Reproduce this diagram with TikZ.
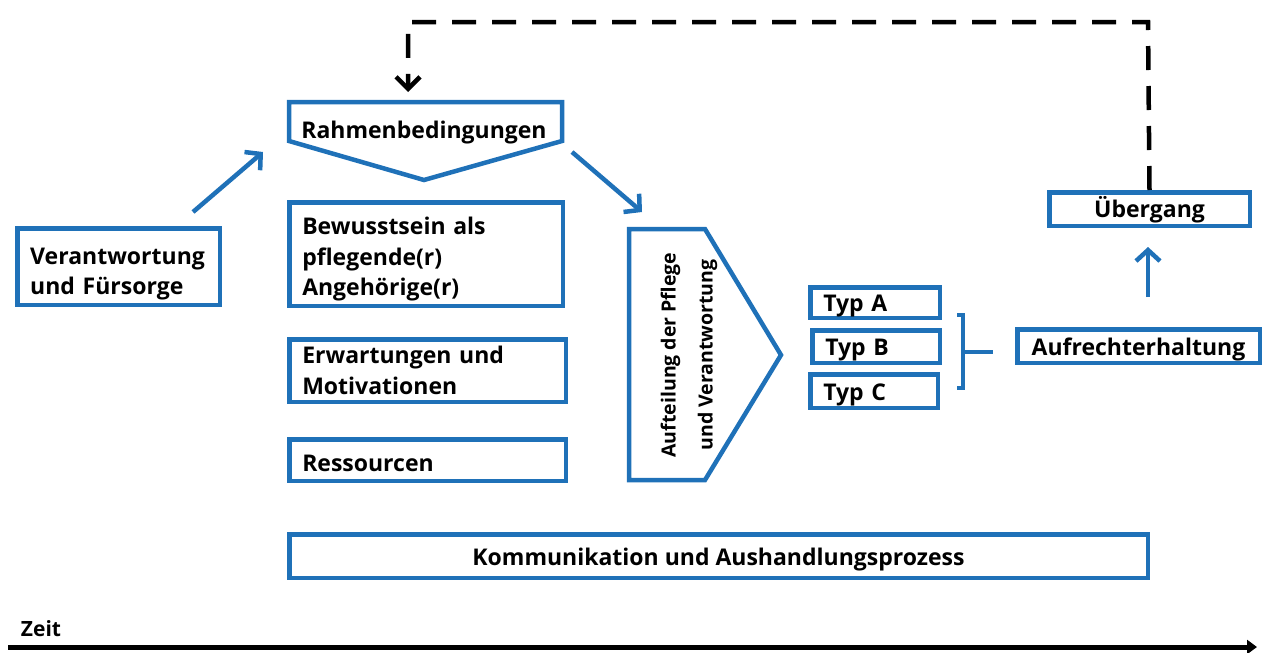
\documentclass[tikz,border=0pt]{standalone}
\usepackage{fontspec}
\setmainfont{Open Sans}
\usetikzlibrary{arrows.meta}
\definecolor{myblue}{RGB}{31,113,184}
\newcommand\dn[1]{\rule{0pt}{\dimexpr 18pt+#1pt\relax}}
\begin{document}
\begin{tikzpicture}[x=1pt,y=-1pt,
  txt/.style={font=\bfseries\fontsize{23}{30.5}\selectfont},
  box/.style={txt, draw=myblue, line width=4.5pt, inner xsep=13pt, inner ysep=0pt, align=left},
  cbox/.style={txt, draw=myblue, line width=4.5pt, inner sep=0pt, align=center},
  shapeline/.style={draw=myblue, line width=4.5pt, line join=miter},
  bluearrow/.style={draw=myblue, line width=4.5pt, -{Straight Barb[length=11pt,width=24pt]}},
  feedback/.style={draw=black, line width=4.5pt, dash pattern=on 24pt off 16pt, -{Straight Barb[length=12pt,width=24pt]}},
  timearrow/.style={draw=black, line width=5pt, -{Triangle[length=10pt,width=14pt]}}
]
\useasboundingbox (0,0) rectangle (1267,653);

% boxes
\node[box, text width=176.5, minimum height=76.5] (verant) at (118.5,266.5) {\dn{14}Verantwortung\\und Fürsorge};
\node[box, text width=247.5, minimum height=103.5] (bewusst) at (426,254) {\dn{10}Bewusstsein als\\pflegende(r)\\Angehörige(r)};
\node[box, text width=250.5, minimum height=62.5] (erwart) at (427.5,370.5) {Erwartungen und\\Motivationen};
\node[box, text width=250.5, minimum height=41.5] (ressour) at (427.5,460) {\dn{6}Ressourcen};
\node[cbox, minimum width=858.5, minimum height=43.5] (komm) at (718.5,556) {\dn{6}Kommunikation und Aushandlungsprozess};
\node[box, text width=103.5, minimum height=30.5, inner xsep=13pt] (typa) at (875,302.5) {\dn{6}Typ A};
\node[box, text width=101.5, minimum height=32.5, inner xsep=13pt] (typb) at (876,346.5) {\dn{6}Typ B};
\node[box, text width=101.5, minimum height=33.5, inner xsep=13pt] (typc) at (874,391) {\dn{6}Typ C};
\node[cbox, minimum width=242.5, minimum height=33.5] (aufr) at (1138.5,346) {\dn{6}Aufrechterhaltung};
\node[cbox, minimum width=200.5, minimum height=33.5] (ueber) at (1149.5,209) {\dn{4}Übergang};

% Rahmenbedingungen (pentagon pointing down)
\draw[shapeline] (289,102) -- (562,102) -- (562,141) -- (424,180) -- (289,141) -- cycle;
\node[txt] (rahmen) at (424,133) {Rahmenbedingungen};

% Aufteilung (pentagon pointing right)
\draw[shapeline] (629,229) -- (705,229) -- (781,355) -- (705,480) -- (629,480) -- cycle;
\node[font=\bfseries\fontsize{19.5}{37}\selectfont, rotate=90, align=center] (aufteil) at (689,355) {Aufteilung der Pflege\\und Verantwortung};

% connectors
\coordinate (a1s) at (193,212);
\coordinate (a1e) at (263,152);
\coordinate (a2s) at (572,152);
\coordinate (a2e) at (642,212);
\draw[bluearrow] (a1s) -- (a1e);
\draw[bluearrow] (a2s) -- (a2e);

\coordinate (up1) at (1148,297);
\coordinate (up2) at (1148,247);
\draw[bluearrow] (up1) -- (up2);

% bracket
\coordinate (brt) at (957,315);
\coordinate (brb) at (957,388);
\coordinate (brm) at (963,352);
\coordinate (bre) at (993,352);
\draw[myblue, line width=3.5pt, line join=miter] (brt) -- (963,315) -- (963,388) -- (brb);
\draw[myblue, line width=3.5pt] (brm) -- (bre);

% feedback dashed
\coordinate (rtop) at (408,92);
\draw[feedback] (ueber.north) -- (1148,22) -| (rtop);

% time axis
\node[font=\bfseries\fontsize{21}{24}\selectfont] (zeit) at (41,629) {Zeit};
\coordinate (t0) at (8,647);
\coordinate (t1) at (1257,647);
\draw[timearrow] (t0) -- (t1);
\end{tikzpicture}
\end{document}
